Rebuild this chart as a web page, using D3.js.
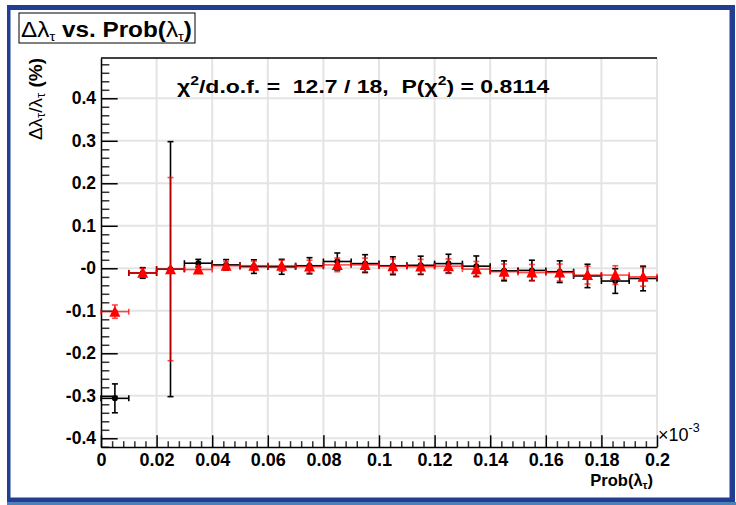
<!DOCTYPE html>
<html>
<head>
<meta charset="utf-8">
<script src="https://cdn.jsdelivr.net/npm/d3@7"></script>
<style>
  html, body { margin: 0; padding: 0; background: #fff; }
  svg { display: block; font-family: "Liberation Sans", Arial, Helvetica, sans-serif; }
</style>
</head>
<body>
<svg id="chart" width="736" height="505"></svg>
<script>
// Bin centres of Prob(lambda_tau), in units of 1e-3
const binCenters = [0.005, 0.015, 0.025, 0.035, 0.045, 0.055, 0.065, 0.075, 0.085, 0.095,
                    0.105, 0.115, 0.125, 0.135, 0.145, 0.155, 0.165, 0.175, 0.185, 0.195];
const binHalfWidth = 0.005;

// Black series: relative shift in percent with its uncertainty
const blackValues = [-0.306, -0.011, -0.002, 0.012, 0.008, 0.004, 0.0035, 0.006, 0.016, 0.011,
                     0.006, 0.007, 0.011, 0.005, -0.006, -0.005, -0.008, -0.018, -0.030, -0.024];
const blackErrors = [0.034, 0.0125, 0.300, 0.009, 0.0125, 0.016, 0.0176, 0.019, 0.020, 0.021,
                     0.021, 0.0215, 0.022, 0.024, 0.0235, 0.024, 0.0255, 0.0275, 0.029, 0.029];

// Red series: fitted shift in percent with its uncertainty
const redValues = [-0.102, -0.0105, -0.002, -0.003, 0.006, 0.006, 0.006, 0.004, 0.008, 0.008,
                   0.005, 0.004, 0.005, -0.002, -0.008, -0.010, -0.010, -0.016, -0.016, -0.020];
const redErrors = [0.0157, 0.010, 0.2155, 0.008, 0.010, 0.011, 0.013, 0.015, 0.016, 0.016,
                   0.017, 0.017, 0.017, 0.018, 0.018, 0.019, 0.020, 0.021, 0.022, 0.022];

// Axis ticks and labels
const xTicks = [0, 0.02, 0.04, 0.06, 0.08, 0.1, 0.12, 0.14, 0.16, 0.18, 0.2];
const xTickLabels = ["0", "0.02", "0.04", "0.06", "0.08", "0.1", "0.12", "0.14", "0.16", "0.18", "0.2"];
const yTicks = [-0.4, -0.3, -0.2, -0.1, 0, 0.1, 0.2, 0.3, 0.4];
const yTickLabels = ["-0.4", "-0.3", "-0.2", "-0.1", "-0", "0.1", "0.2", "0.3", "0.4"];

// Fit summary
const chi2 = "12.7", ndf = "18", probChi2 = "0.8114";

const svg = d3.select("#chart");
const W = 736, H = 505;
const plot = { left: 101, right: 657, top: 58, bottom: 447 };

const x = d3.scaleLinear().domain([0, 0.2]).range([plot.left, plot.right]);
const y = d3.scaleLinear().domain([-0.4205, 0.4948]).range([plot.bottom, plot.top]);

// Stretch a text element horizontally so it spans the given width from its left edge
function fitWidth(sel, width) {
  const node = sel.node();
  const bb = node.getBBox();
  const s = width / bb.width;
  sel.attr("transform", `translate(${bb.x},0) scale(${s},1) translate(${-bb.x},0)`);
}

// Canvas frame
svg.append("rect").attr("width", W).attr("height", H).attr("fill", "#fff");
svg.append("rect").attr("x", 7).attr("y", 5).attr("width", 728).attr("height", 498).attr("fill", "#213d94");
svg.append("rect").attr("x", 7).attr("y", 502).attr("width", 729).attr("height", 3).attr("fill", "#4f7fb8");
svg.append("rect").attr("x", 10.5).attr("y", 10).attr("width", 719).attr("height", 487.5).attr("fill", "#fff");

// Grid
const grid = svg.append("g").attr("stroke", "#e4e4e4").attr("stroke-width", 2);
grid.selectAll("line.gx").data(xTicks.filter(d => d > 0)).join("line")
  .attr("x1", d => x(d)).attr("x2", d => x(d)).attr("y1", plot.top).attr("y2", plot.bottom);
grid.selectAll("line.gy").data(yTicks).join("line")
  .attr("x1", plot.left).attr("x2", plot.right).attr("y1", d => y(d)).attr("y2", d => y(d));

// Top frame line
svg.append("line").attr("x1", plot.left).attr("x2", plot.right).attr("y1", plot.top).attr("y2", plot.top)
  .attr("stroke", "#000").attr("stroke-width", 1.5);

// Axes
const yMajorLen = 0.03 * (plot.right - plot.left);
const xMajorLen = 0.03 * (plot.bottom - plot.top);

const yMinor = d3.range(-0.42, 0.4949, 0.02).filter(v => Math.abs(Math.round(v * 10) - v * 10) > 1e-6);
const xMinor = d3.range(0, 0.2001, 0.004).filter(v => Math.abs(Math.round(v * 50) - v * 50) > 1e-6);

const gyMinor = svg.append("g").attr("transform", `translate(${plot.left},0)`)
  .call(d3.axisLeft(y).tickValues(yMinor).tickSize(-yMajorLen / 2).tickFormat(""));
gyMinor.select(".domain").remove();
gyMinor.selectAll("line").attr("stroke", "#333").attr("stroke-width", 1.5);

const gxMinor = svg.append("g").attr("transform", `translate(0,${plot.bottom})`)
  .call(d3.axisBottom(x).tickValues(xMinor).tickSize(-xMajorLen / 2).tickFormat(""));
gxMinor.select(".domain").remove();
gxMinor.selectAll("line").attr("stroke", "#333").attr("stroke-width", 1.5);

const gy = svg.append("g").attr("transform", `translate(${plot.left},0)`)
  .call(d3.axisLeft(y).tickValues(yTicks).tickSize(-yMajorLen).tickSizeOuter(0).tickPadding(5)
    .tickFormat((d, i) => yTickLabels[i]));
gy.attr("font-family", null).attr("font-size", null);
gy.select(".domain").attr("stroke", "#000").attr("stroke-width", 1.5);
gy.selectAll(".tick line").attr("stroke", "#000").attr("stroke-width", 1.5);
gy.selectAll(".tick text").attr("font-size", 17.5).attr("font-weight", "bold").attr("fill", "#000");

const gx = svg.append("g").attr("transform", `translate(0,${plot.bottom})`)
  .call(d3.axisBottom(x).tickValues(xTicks).tickSize(-xMajorLen).tickSizeOuter(0).tickPadding(6)
    .tickFormat((d, i) => xTickLabels[i]));
gx.attr("font-family", null).attr("font-size", null);
gx.select(".domain").attr("stroke", "#000").attr("stroke-width", 1.5);
gx.selectAll(".tick line").attr("stroke", "#000").attr("stroke-width", 1.5);
gx.selectAll(".tick text").attr("font-size", 18).attr("font-weight", "bold").attr("fill", "#000");

// Error bar drawing helper
function drawSeries(values, errors, color, opacity, cls) {
  const pts = binCenters.map((c, i) => ({ c, v: values[i], e: errors[i] }));
  const g = svg.append("g").attr("class", cls).attr("stroke", color).attr("stroke-opacity", opacity)
    .attr("stroke-width", 1.6).attr("fill", "none");
  const cap = 3;
  // horizontal bin-width bars with end caps
  g.selectAll("line.h").data(pts).join("line")
    .attr("x1", d => x(d.c - binHalfWidth)).attr("x2", d => x(d.c + binHalfWidth))
    .attr("y1", d => y(d.v)).attr("y2", d => y(d.v));
  g.selectAll("line.hl").data(pts).join("line")
    .attr("x1", d => x(d.c - binHalfWidth)).attr("x2", d => x(d.c - binHalfWidth))
    .attr("y1", d => y(d.v) - cap).attr("y2", d => y(d.v) + cap);
  g.selectAll("line.hr").data(pts).join("line")
    .attr("x1", d => x(d.c + binHalfWidth)).attr("x2", d => x(d.c + binHalfWidth))
    .attr("y1", d => y(d.v) - cap).attr("y2", d => y(d.v) + cap);
  // vertical uncertainty bars with end caps
  g.selectAll("line.v").data(pts).join("line")
    .attr("x1", d => x(d.c)).attr("x2", d => x(d.c))
    .attr("y1", d => y(d.v + d.e)).attr("y2", d => y(d.v - d.e));
  g.selectAll("line.vt").data(pts).join("line")
    .attr("x1", d => x(d.c) - cap).attr("x2", d => x(d.c) + cap)
    .attr("y1", d => y(d.v + d.e)).attr("y2", d => y(d.v + d.e));
  g.selectAll("line.vb").data(pts).join("line")
    .attr("x1", d => x(d.c) - cap).attr("x2", d => x(d.c) + cap)
    .attr("y1", d => y(d.v - d.e)).attr("y2", d => y(d.v - d.e));
  return pts;
}

const blackPts = drawSeries(blackValues, blackErrors, "#000", 1, "black-series");
svg.append("g").selectAll("circle").data(blackPts).join("circle")
  .attr("cx", d => x(d.c)).attr("cy", d => y(d.v)).attr("r", 3).attr("fill", "#000");

const redPts = drawSeries(redValues, redErrors, "#ff0000", 0.7, "red-series");
svg.append("g").selectAll("path").data(redPts).join("path")
  .attr("transform", d => `translate(${x(d.c)},${y(d.v)})`)
  .attr("d", "M0,-6L5.5,5L-5.5,5Z").attr("fill", "#ff0000");

// Fit summary text
const ann = svg.append("text").attr("x", 177).attr("y", 93).attr("font-size", 19)
  .attr("font-weight", "bold").attr("fill", "#000").style("white-space", "pre");
ann.append("tspan").text("χ");
ann.append("tspan").attr("dy", -8).attr("font-size", 13).text("2");
ann.append("tspan").attr("dy", 8).text(`/d.o.f. =  ${chi2} / ${ndf},  P(χ`);
ann.append("tspan").attr("dy", -8).attr("font-size", 13).text("2");
ann.append("tspan").attr("dy", 8).text(`) = ${probChi2}`);
fitWidth(ann, 373);

// Title box
svg.append("rect").attr("x", 19).attr("y", 13).attr("width", 176).attr("height", 30)
  .attr("fill", "#fff").attr("stroke", "#000").attr("stroke-width", 1);
const title = svg.append("text").attr("x", 21).attr("y", 37).attr("font-size", 21.5)
  .attr("font-weight", "bold").attr("fill", "#000").style("white-space", "pre");
title.append("tspan").attr("font-weight", "normal").text("Δλ");
title.append("tspan").attr("font-weight", "normal").attr("font-size", 13).attr("dy", 4).text("τ");
title.append("tspan").attr("dy", -4).text(" vs. Prob(");
title.append("tspan").attr("font-weight", "normal").text("λ");
title.append("tspan").attr("font-weight", "normal").attr("font-size", 13).attr("dy", 4).text("τ");
title.append("tspan").attr("dy", -4).text(")");
fitWidth(title, 171);

// Y-axis title
const yt = svg.append("text").attr("transform", `translate(42,${plot.top}) rotate(-90)`)
  .attr("text-anchor", "end").attr("font-size", 19).attr("fill", "#000").style("white-space", "pre");
yt.append("tspan").text("Δλ");
yt.append("tspan").attr("font-size", 13).attr("dy", 3).text("τ");
yt.append("tspan").attr("dy", -3).text("/λ");
yt.append("tspan").attr("font-size", 13).attr("dy", 3).text("τ");
yt.append("tspan").attr("dy", -3).attr("font-weight", "bold").text(" (%)");

// X-axis title
const xt = svg.append("text").attr("x", 653).attr("y", 486).attr("text-anchor", "end")
  .attr("font-size", 16.5).attr("font-weight", "bold").attr("fill", "#000");
xt.append("tspan").text("Prob(λ");
xt.append("tspan").attr("font-size", 11).attr("dy", 3).text("τ");
xt.append("tspan").attr("dy", -3).text(")");

// Axis multiplier
const mult = svg.append("text").attr("x", 658).attr("y", 441).attr("font-size", 18).attr("fill", "#000");
mult.append("tspan").text("×10");
mult.append("tspan").attr("font-size", 12.5).attr("dy", -9).text("-3");
</script>
</body>
</html>
